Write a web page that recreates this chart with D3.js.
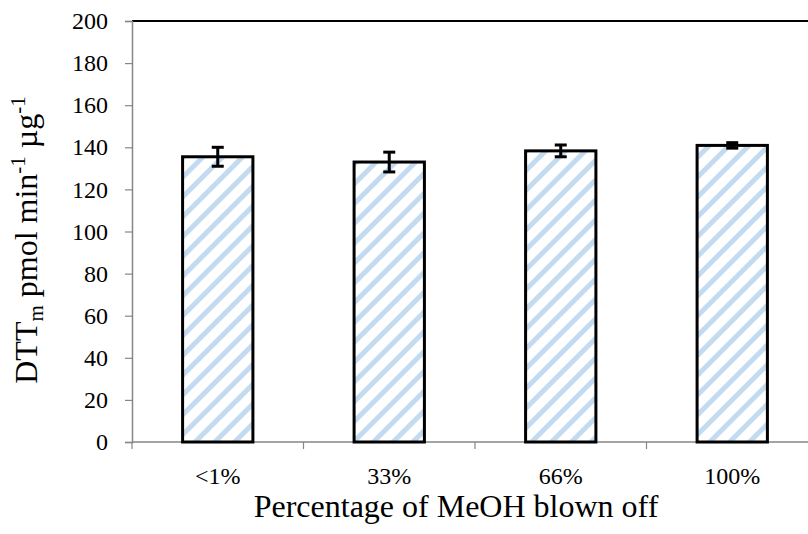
<!DOCTYPE html>
<html>
<head>
<meta charset="utf-8">
<script src="https://cdn.jsdelivr.net/npm/d3@7"></script>
<style>
  body { margin: 0; background: #fff; }
  svg text { font-family: "Liberation Serif", "Times New Roman", serif; fill: #000; }
</style>
</head>
<body>
<svg id="chart" width="808" height="534"></svg>
<script>
// values
const categories = ["<1%", "33%", "66%", "100%"];
const means = [135.5, 133, 138.3, 140.9];
const errors = [4.5, 4.7, 2.8, 1.3];
const yTicks = [0, 20, 40, 60, 80, 100, 120, 140, 160, 180, 200];

const margin = {top: 21, right: -10, bottom: 92, left: 132};
const width = 808, height = 534;

let svg = d3.select("#chart");

// diagonal hatch for the bars
let pattern = svg.append("defs")
  .append("pattern")
    .attr("id", "hatch")
    .attr("patternUnits", "userSpaceOnUse")
    .attr("width", 14)
    .attr("height", 14)
    .attr("patternTransform", "rotate(45)");
pattern.append("rect")
    .attr("width", 14).attr("height", 14).attr("fill", "#fff");
pattern.append("rect")
    .attr("x", 0).attr("width", 5).attr("height", 14)
    .attr("fill", "#c3dbf0");

let x = d3.scaleBand()
  .domain(categories)
  .range([margin.left, width - margin.right])
  .paddingInner(0.59)
  .paddingOuter(0.295);

let y = d3.scaleLinear()
  .domain([0, 200])
  .range([height - margin.bottom, margin.top]);

// top frame line
svg.append("line")
    .attr("x1", margin.left).attr("x2", width)
    .attr("y1", y(200)).attr("y2", y(200))
    .attr("stroke", "#000").attr("stroke-width", 2);

// y axis
let yAxis = svg.append("g")
    .attr("transform", `translate(${margin.left},0)`)
    .call(d3.axisLeft(y).tickValues(yTicks).tickSize(7).tickPadding(17));
yAxis.select(".domain").attr("stroke", "#868686").attr("stroke-width", 1.5);
yAxis.selectAll(".tick line").attr("stroke", "#868686").attr("stroke-width", 1.2);
yAxis.selectAll("text").style("font-size", "24px");

// x axis, ticks sit between categories
let bounds = categories.map(c => x(c) - x.step() * x.paddingInner() / 2);
bounds.push(width - margin.right);
let xAxis = svg.append("g").attr("transform", `translate(0,${y(0)})`);
xAxis.append("line")
    .attr("x1", margin.left).attr("x2", width)
    .attr("stroke", "#868686").attr("stroke-width", 1.5);
xAxis.selectAll(".xt")
  .data(bounds)
  .enter().append("line")
    .attr("x1", d => d).attr("x2", d => d)
    .attr("y1", 0).attr("y2", 7)
    .attr("stroke", "#868686").attr("stroke-width", 1.2);
xAxis.selectAll(".xl")
  .data(categories)
  .enter().append("text")
    .attr("x", d => x(d) + x.bandwidth() / 2)
    .attr("y", 42)
    .attr("text-anchor", "middle")
    .style("font-size", "24px")
    .text(d => d);

// bars
svg.selectAll(".bar")
  .data(categories)
  .enter().append("rect")
    .attr("x", d => x(d))
    .attr("y", (d, i) => y(means[i]))
    .attr("width", x.bandwidth())
    .attr("height", (d, i) => y(0) - y(means[i]))
    .attr("fill", "url(#hatch)")
    .attr("stroke", "#000")
    .attr("stroke-width", 3);

// error bars
let eb = svg.selectAll(".err")
  .data(categories)
  .enter().append("g")
    .attr("stroke", "#000")
    .attr("stroke-width", 3);
eb.append("line")
    .attr("x1", d => x(d) + x.bandwidth() / 2)
    .attr("x2", d => x(d) + x.bandwidth() / 2)
    .attr("y1", (d, i) => y(means[i] + errors[i]))
    .attr("y2", (d, i) => y(means[i] - errors[i]));
[1, -1].forEach(s => {
  eb.append("line")
      .attr("x1", d => x(d) + x.bandwidth() / 2 - 6)
      .attr("x2", d => x(d) + x.bandwidth() / 2 + 6)
      .attr("y1", (d, i) => y(means[i] + s * errors[i]))
      .attr("y2", (d, i) => y(means[i] + s * errors[i]));
});

// axis titles
svg.append("text")
    .attr("x", 456)
    .attr("y", 517)
    .attr("text-anchor", "middle")
    .style("font-size", "32px")
    .text("Percentage of MeOH blown off");

let yt = svg.append("text")
    .attr("transform", `translate(37,240) rotate(-90)`)
    .attr("text-anchor", "middle")
    .style("font-size", "32px");
yt.append("tspan").text("DTT");
yt.append("tspan").style("font-size", "21px").attr("dy", 6).text("m");
yt.append("tspan").attr("dy", -6).text(" pmol min");
yt.append("tspan").style("font-size", "21px").attr("dy", -12).text("-1");
yt.append("tspan").attr("dy", 12).text(" µg");
yt.append("tspan").style("font-size", "21px").attr("dy", -12).text("-1");
</script>
</body>
</html>
